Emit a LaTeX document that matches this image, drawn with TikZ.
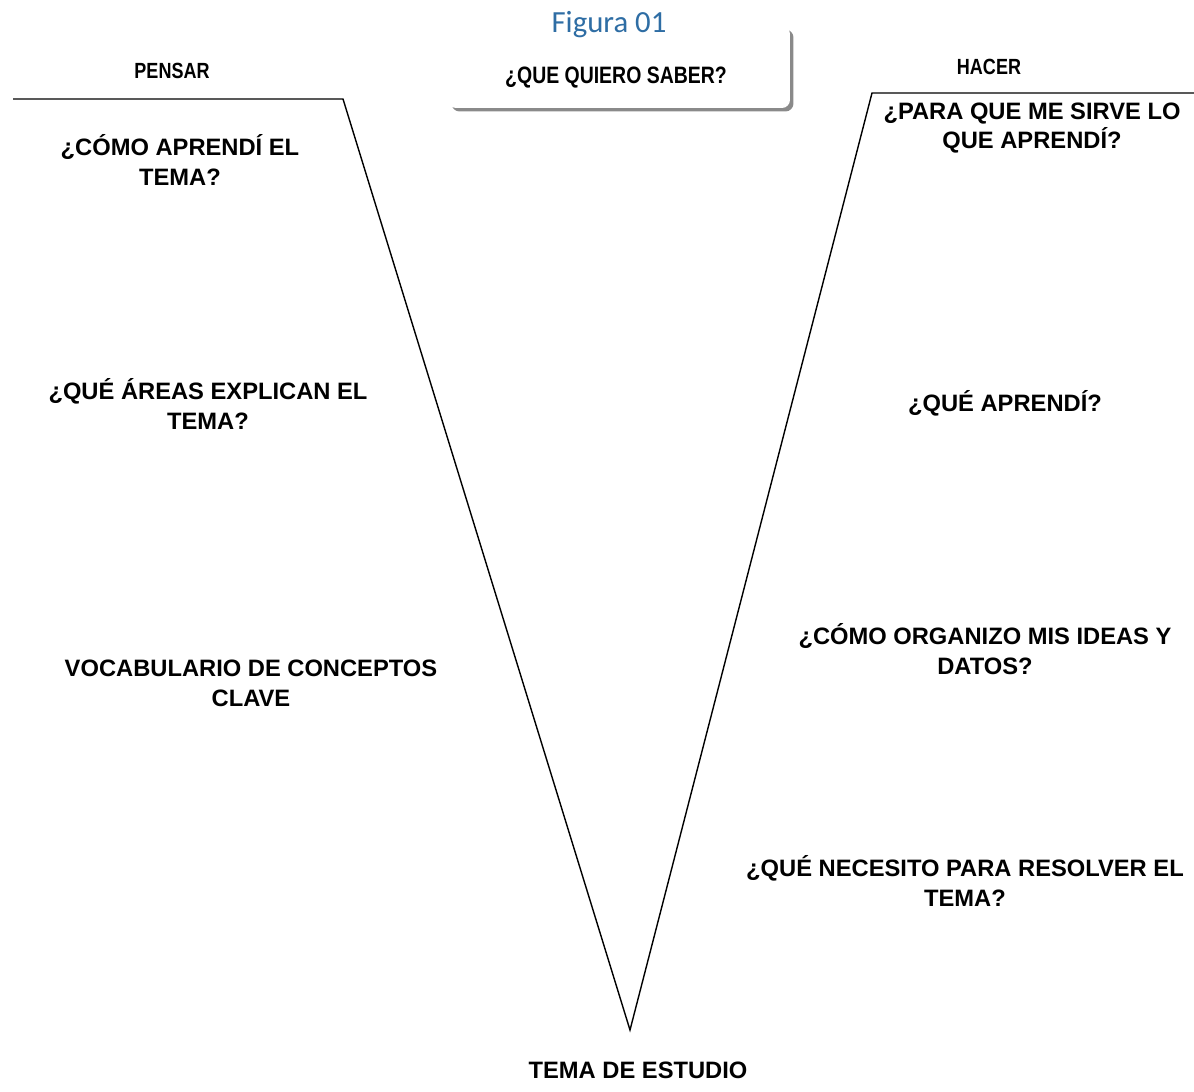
\documentclass[tikz,border=0pt]{standalone}
\usepackage{fontspec}
\setmainfont{Liberation Sans}
\newfontfamily\angosta[FakeStretch=0.82]{Liberation Sans}
\newfontfamily\calibri{Carlito}
\usetikzlibrary{shadows}
\definecolor{azulFig}{HTML}{2E6DA4}
\definecolor{grisSombra}{HTML}{8A8A8A}
\newcommand{\grosorV}{0.8pt}

\begin{document}
\begin{tikzpicture}[x=0.02cm, y=-0.02cm,
	pregunta/.style={align=center, inner sep=0pt, font=\fontsize{13.5}{17}\selectfont\bfseries},
	titulo/.style={inner sep=0pt, font=\angosta\fontsize{12.5}{15}\selectfont\bfseries},
	caja/.style={rounded corners=0.16cm, fill=white, minimum width=6.84cm, minimum height=1.64cm,
		drop shadow={shadow xshift=0.07cm, shadow yshift=-0.07cm, fill=grisSombra, opacity=1}}]
	\useasboundingbox (0,0) rectangle (1194,1092);

	% la V
	\coordinate (pensarIzq) at (13,99);
	\coordinate (pensarDer) at (343,99);
	\coordinate (vertice) at (630,1030);
	\coordinate (hacerIzq) at (872,93);
	\coordinate (hacerDer) at (1194,93);
	\draw[line width=\grosorV] (pensarIzq) -- (pensarDer) -- (vertice) -- (hacerIzq) -- (hacerDer);

	% cabecera
	\node[caja] (caja) at (619,67) {};
	\node[inner sep=0pt, text=azulFig, font=\calibri\fontsize{17.5}{20}\selectfont] (figura) at (609,25) {Figura 01};
	\node[titulo, font=\angosta\fontsize{13.5}{16}\selectfont\bfseries] (saber) at (616,78) {¿QUE QUIERO SABER?};
	\node[titulo] (pensar) at (172,71) {PENSAR};
	\node[titulo] (hacer) at (989,67) {HACER};

	% lado izquierdo
	\node[pregunta] (como) at (180,160) {¿CÓMO APRENDÍ EL\\TEMA?};
	\node[pregunta] (areas) at (208,404) {¿QUÉ ÁREAS EXPLICAN EL\\TEMA?};
	\node[pregunta] (vocab) at (251,683) {VOCABULARIO DE CONCEPTOS\\CLAVE};

	% lado derecho
	\node[pregunta] (sirve) at (1032,128) {¿PARA QUE ME SIRVE LO\\QUE APRENDÍ?};
	\node[pregunta] (aprendi) at (1005,403) {¿QUÉ APRENDÍ?};
	\node[pregunta] (organizo) at (985,649) {¿CÓMO ORGANIZO MIS IDEAS Y\\DATOS?};
	\node[pregunta] (necesito) at (965,881) {¿QUÉ NECESITO PARA RESOLVER EL\\TEMA?};

	\node[pregunta] (tema) at (638,1070) {TEMA DE ESTUDIO};
\end{tikzpicture}
\end{document}
